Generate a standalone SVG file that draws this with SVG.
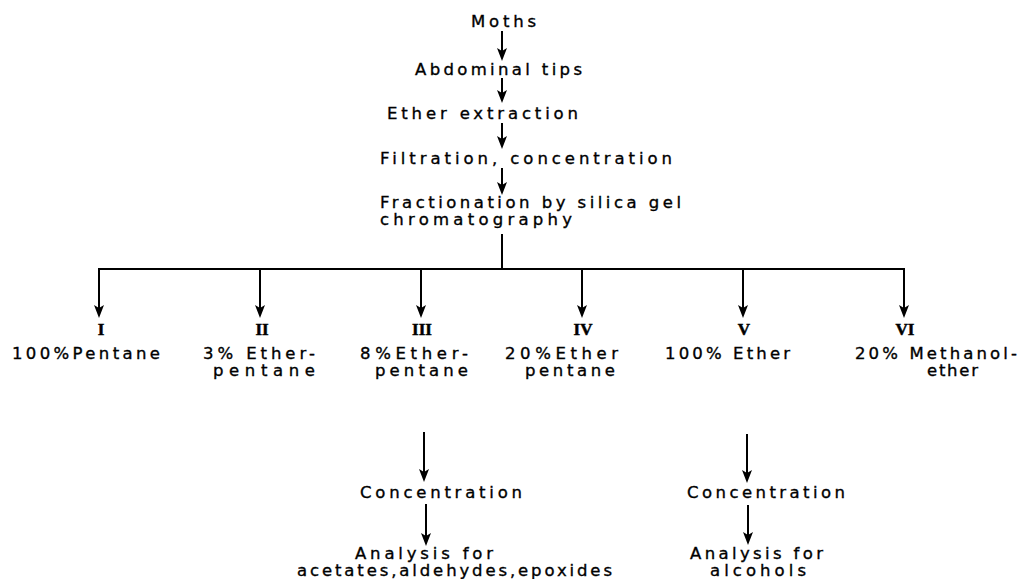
<svg xmlns="http://www.w3.org/2000/svg" width="1021" height="579" viewBox="0 0 1021 579">
<style>
text{font-family:"DejaVu Sans","Liberation Sans",sans-serif;font-size:16.5px;fill:#000;stroke:#000;stroke-width:0.35px}
.rn{font-family:"Liberation Serif",serif;font-size:17px;font-weight:bold;text-anchor:middle;stroke-width:0.5px}
.c line{stroke:#000;stroke-width:2;fill:none}
</style>
<rect width="1021" height="579" fill="#fff"/>
<g class="c" id="connectors">
<line x1="502" y1="31" x2="502" y2="55"/>
<line x1="502" y1="78" x2="502" y2="97"/>
<line x1="502" y1="123" x2="502" y2="143"/>
<line x1="502" y1="168" x2="502" y2="189"/>
<line x1="502" y1="234" x2="502" y2="269"/>
<line x1="98" y1="269" x2="905" y2="269"/>
<line x1="99" y1="269" x2="99" y2="312"/>
<line x1="260" y1="269" x2="260" y2="312"/>
<line x1="421" y1="269" x2="421" y2="312"/>
<line x1="582" y1="269" x2="582" y2="312"/>
<line x1="743" y1="269" x2="743" y2="312"/>
<line x1="904" y1="269" x2="904" y2="312"/>
<line x1="424" y1="432" x2="424" y2="476"/>
<line x1="426" y1="504" x2="426" y2="540"/>
<line x1="747" y1="434" x2="747" y2="477"/>
<line x1="748" y1="505" x2="748" y2="539"/>
</g>
<g id="arrowheads" fill="#000">
<path d="M497,48 L502,61 L507,48 L502,51 z"/>
<path d="M497,90 L502,103 L507,90 L502,93 z"/>
<path d="M497,136 L502,149 L507,136 L502,139 z"/>
<path d="M497,182 L502,195 L507,182 L502,185 z"/>
<path d="M94,305 L99,318 L104,305 L99,308 z"/>
<path d="M255,305 L260,318 L265,305 L260,308 z"/>
<path d="M416,305 L421,318 L426,305 L421,308 z"/>
<path d="M577,305 L582,318 L587,305 L582,308 z"/>
<path d="M738,305 L743,318 L748,305 L743,308 z"/>
<path d="M899,305 L904,318 L909,305 L904,308 z"/>
<path d="M419,469 L424,482 L429,469 L424,472 z"/>
<path d="M421,533 L426,546 L431,533 L426,536 z"/>
<path d="M742,470 L747,483 L752,470 L747,473 z"/>
<path d="M743,532 L748,545 L753,532 L748,535 z"/>
</g>
<g id="n-moths"><text x="471" y="27" textLength="65" lengthAdjust="spacing">Moths</text></g>
<g id="n-abdominal"><text x="415" y="75" textLength="167" lengthAdjust="spacing">Abdominal tips</text></g>
<g id="n-ether-extraction"><text x="387" y="119" textLength="191" lengthAdjust="spacing">Ether extraction</text></g>
<g id="n-filtration"><text x="380" y="164" textLength="292" lengthAdjust="spacing">Filtration, concentration</text></g>
<g id="n-fractionation">
<text x="380" y="208" textLength="301" lengthAdjust="spacing">Fractionation by silica gel</text>
<text x="380" y="225" textLength="192" lengthAdjust="spacing">chromatography</text>
</g>
<g id="n-I"><text class="rn" x="101" y="335">I</text><text x="12" y="359" textLength="148" lengthAdjust="spacing">100%Pentane</text></g>
<g id="n-II"><text class="rn" x="262" y="335">II</text><text x="203" y="359" textLength="112" lengthAdjust="spacing">3% Ether-</text><text x="213" y="376" textLength="102" lengthAdjust="spacing">pentane</text></g>
<g id="n-III"><text class="rn" x="422" y="335">III</text><text x="360" y="359" textLength="108" lengthAdjust="spacing">8%Ether-</text><text x="375" y="376" textLength="93" lengthAdjust="spacing">pentane</text></g>
<g id="n-IV"><text class="rn" x="583" y="335">IV</text><text x="505" y="359" textLength="113" lengthAdjust="spacing">20%Ether</text><text x="525" y="376" textLength="90" lengthAdjust="spacing">pentane</text></g>
<g id="n-V"><text class="rn" x="744" y="335">V</text><text x="665" y="359" textLength="125" lengthAdjust="spacing">100% Ether</text></g>
<g id="n-VI"><text class="rn" x="905" y="335">VI</text><text x="855" y="359" textLength="162" lengthAdjust="spacing">20% Methanol-</text><text x="927" y="376" textLength="51" lengthAdjust="spacing">ether</text></g>
<g id="n-conc-left"><text x="360" y="498" textLength="162" lengthAdjust="spacing">Concentration</text></g>
<g id="n-analysis-left">
<text x="355" y="559" textLength="138" lengthAdjust="spacing">Analysis for</text>
<text x="297" y="576" textLength="315" lengthAdjust="spacing">acetates,aldehydes,epoxides</text>
</g>
<g id="n-conc-right"><text x="687" y="498" textLength="158" lengthAdjust="spacing">Concentration</text></g>
<g id="n-analysis-right">
<text x="690" y="559" textLength="133" lengthAdjust="spacing">Analysis for</text>
<text x="710" y="576" textLength="96" lengthAdjust="spacing">alcohols</text>
</g>
</svg>
